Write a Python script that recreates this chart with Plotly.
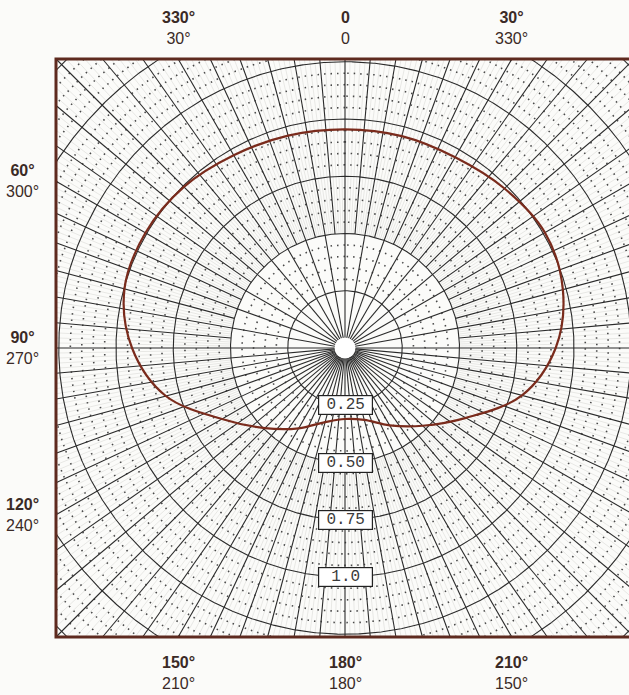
import numpy as np
import plotly.graph_objects as go

# Measured polar response; angle counter-clockwise from the top, in degrees
angle_deg = [0, 15, 30, 45, 60, 75, 90, 105, 120, 135, 150, 165, 180,
             195, 210, 225, 240, 255, 270, 285, 300, 315, 330, 345, 360]
response = [0.955, 0.960, 0.972, 0.995, 1.006, 0.997, 0.930, 0.810, 0.620,
            0.495, 0.405, 0.335, 0.310, 0.325, 0.390, 0.480, 0.610, 0.800,
            0.920, 0.985, 1.008, 0.985, 0.962, 0.958, 0.955]

# Radial scale labels
ring_values = [0.25, 0.50, 0.75, 1.0]
ring_texts = ["0.25", "0.50", "0.75", "1.0"]

# Angle labels round the frame: (direction, upper text, lower text)
angle_ticks = [
    (30, "330°", "30°"), (0, "0", "0"), (-30, "30°", "330°"),
    (60, "60°", "300°"), (90, "90°", "270°"), (120, "120°", "240°"),
    (150, "150°", "210°"), (180, "180°", "180°"), (210, "210°", "150°"),
]

HALF = 1.262       # half width of the square frame (radial units)
HOLE = 0.045       # blank disc at the centre
PX = 229.0         # pixels per radial unit
CX, CY = 345.0, 348.0
W, H = 629, 695

INK = "#2b2b2b"
BROWN = "#5e2a1f"
CURVE = "#7a2b1c"


def direction(deg):
    t = np.radians(deg)
    return -np.sin(t), np.cos(t)


def frame_reach(deg):
    dx, dy = direction(deg)
    return HALF / max(abs(dx), abs(dy))


def clip(x, y):
    x = np.asarray(x, float)
    y = np.asarray(y, float)
    out = (np.abs(x) > HALF + 1e-9) | (np.abs(y) > HALF + 1e-9)
    x[out] = np.nan
    y[out] = np.nan
    return x, y


def rings(radii, n=1441):
    th = np.linspace(0, 2 * np.pi, n)
    xs, ys = [], []
    for r in radii:
        x, y = clip(-r * np.sin(th), r * np.cos(th))
        xs.extend(x.tolist() + [None])
        ys.extend(y.tolist() + [None])
    xs = [None if (v is not None and np.isnan(v)) else v for v in xs]
    ys = [None if (v is not None and np.isnan(v)) else v for v in ys]
    return xs, ys


def spokes(angles, r0):
    xs, ys = [], []
    for a in angles:
        dx, dy = direction(a)
        r1 = frame_reach(a)
        start = r0(a) if callable(r0) else r0
        xs += [start * dx, r1 * dx, None]
        ys += [start * dy, r1 * dy, None]
    return xs, ys


fig = go.Figure()

# fine radial hatching
fine = [a for a in np.arange(0, 360, 1.0) if a % 5 != 0]
fx, fy = spokes(fine, 0.5)
fig.add_trace(go.Scatter(x=fx, y=fy, mode="lines", hoverinfo="skip",
                         line=dict(color="#d4d4d1", width=0.5)))

# dotted rings every 0.05
dotted_r = [round(v, 3) for v in np.arange(0.30, 1.80, 0.05)
            if abs((v / 0.25) - round(v / 0.25)) > 1e-6]
dx_, dy_ = rings(dotted_r, n=2881)
fig.add_trace(go.Scatter(x=dx_, y=dy_, mode="lines", hoverinfo="skip",
                         line=dict(color="#4a4a4a", width=1.6, dash="1.5px,5px")))

# solid rings every 0.25
sx, sy = rings([0.25 * k for k in range(1, 8)])
fig.add_trace(go.Scatter(x=sx, y=sy, mode="lines", hoverinfo="skip",
                         line=dict(color=INK, width=1.1)))

# main spokes: 10 degree ones reach the centre, 5 degree ones too in the rear half
ten = list(range(0, 360, 10))
five = list(range(5, 360, 10))
tx, ty = spokes(ten, HOLE)
vx, vy = spokes(five, lambda a: HOLE if 90 < a < 270 else 0.5)
fig.add_trace(go.Scatter(x=tx + vx, y=ty + vy, mode="lines", hoverinfo="skip",
                         line=dict(color=INK, width=1.1)))

# response curve
th = np.radians(angle_deg)
r = np.asarray(response)
fig.add_trace(go.Scatter(x=-r * np.sin(th), y=r * np.cos(th), mode="lines",
                         line=dict(color=CURVE, width=2.2, shape="spline",
                                   smoothing=1.0),
                         hoverinfo="skip"))

shapes = [
    dict(type="circle", xref="x", yref="y", x0=-HOLE, x1=HOLE, y0=-HOLE, y1=HOLE,
         fillcolor="white", line=dict(width=0), layer="above"),
    dict(type="rect", xref="x", yref="y", x0=-HALF, x1=HALF, y0=-HALF, y1=HALF,
         line=dict(color=BROWN, width=3), fillcolor="rgba(0,0,0,0)", layer="above"),
]

annotations = []
for v, txt in zip(ring_values, ring_texts):
    annotations.append(dict(
        x=0, y=-v, xref="x", yref="y", text=txt, showarrow=False,
        font=dict(family="Liberation Mono, DejaVu Sans Mono, monospace",
                  size=16, color="#3a3a3a"),
        bgcolor="white", bordercolor="#222222", borderwidth=1.2, borderpad=1,
        width=51, height=16, align="center"))

TOP_Y = (CY - 28) / PX
BOT_Y = (CY - 673) / PX
LEFT_X = (22 - CX) / PX
for a, up, low in angle_ticks:
    dx, dy = direction(a)
    reach = frame_reach(a)
    px, py = reach * dx, reach * dy
    if abs(py) >= HALF - 1e-6 and py > 0:
        ax, ay = px, TOP_Y
    elif abs(py) >= HALF - 1e-6 and py < 0:
        ax, ay = px, BOT_Y
    else:
        ax, ay = LEFT_X, py
    annotations.append(dict(
        x=ax, y=ay, xref="x", yref="y", showarrow=False, align="center",
        text=f"<b>{up}</b><br>{low}",
        font=dict(family="Liberation Sans, Arial, sans-serif", size=16,
                  color="#3a2a26")))

fig.update_layout(
    width=W, height=H, margin=dict(l=0, r=0, t=0, b=0),
    paper_bgcolor="#fbfbf9", plot_bgcolor="#fbfbf9",
    showlegend=False, shapes=shapes, annotations=annotations,
    xaxis=dict(range=[-CX / PX, (W - CX) / PX], visible=False, fixedrange=True),
    yaxis=dict(range=[(CY - H) / PX, CY / PX], visible=False, fixedrange=True),
)

fig.write_html("out.html")
